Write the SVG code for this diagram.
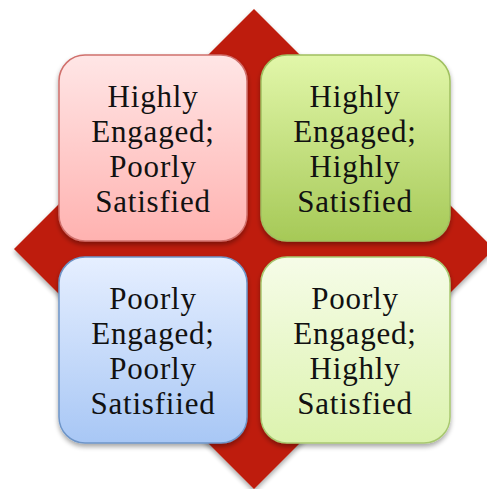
<svg xmlns="http://www.w3.org/2000/svg" width="487" height="489" viewBox="0 0 487 489">
  <defs>
    <filter id="shadow" x="-10%" y="-10%" width="120%" height="125%">
      <feGaussianBlur in="SourceAlpha" stdDeviation="2.5"/>
      <feOffset dx="0" dy="3" result="b"/>
      <feComponentTransfer><feFuncA type="linear" slope="0.35"/></feComponentTransfer>
      <feMerge><feMergeNode/><feMergeNode in="SourceGraphic"/></feMerge>
    </filter>
    <linearGradient id="gRed" x1="0" y1="0" x2="0" y2="1">
      <stop offset="0" stop-color="#FFE6E6"/>
      <stop offset="1" stop-color="#FFB2B0"/>
    </linearGradient>
    <linearGradient id="gGreen" x1="0" y1="0" x2="0" y2="1">
      <stop offset="0" stop-color="#E2F7AA"/>
      <stop offset="1" stop-color="#A6C957"/>
    </linearGradient>
    <linearGradient id="gBlue" x1="0" y1="0" x2="0" y2="1">
      <stop offset="0" stop-color="#E6EFFF"/>
      <stop offset="1" stop-color="#A8C7F5"/>
    </linearGradient>
    <linearGradient id="gLime" x1="0" y1="0" x2="0" y2="1">
      <stop offset="0" stop-color="#F6FCE8"/>
      <stop offset="1" stop-color="#DCF3AE"/>
    </linearGradient>
  </defs>
  <style>
    .box { stroke-width: 1.5; filter: url(#shadow); }
    .lbl { font-family: "Liberation Serif", "Times New Roman", serif; font-size: 31px; letter-spacing: 0.8px; fill: #111; text-anchor: middle; }
  </style>

  <!-- red diamond backdrop -->
  <polygon points="254,9 494,249 254,489 14,249" fill="#BE1A0B" filter="url(#shadow)"/>

  <g id="highly-engaged-poorly-satisfied">
    <rect class="box" x="59" y="55" width="188" height="186" rx="26" fill="url(#gRed)" stroke="#D0706C"/>
    <text class="lbl" x="153" y="107">Highly</text>
    <text class="lbl" x="153" y="142">Engaged;</text>
    <text class="lbl" x="153" y="177">Poorly</text>
    <text class="lbl" x="153" y="212">Satisfied</text>
  </g>

  <g id="highly-engaged-highly-satisfied">
    <rect class="box" x="261" y="55" width="189" height="186" rx="26" fill="url(#gGreen)" stroke="#A0C060"/>
    <text class="lbl" x="355" y="107">Highly</text>
    <text class="lbl" x="355" y="142">Engaged;</text>
    <text class="lbl" x="355" y="177">Highly</text>
    <text class="lbl" x="355" y="212">Satisfied</text>
  </g>

  <g id="poorly-engaged-poorly-satisfied">
    <rect class="box" x="59" y="257" width="188" height="186" rx="26" fill="url(#gBlue)" stroke="#6E95C8"/>
    <text class="lbl" x="153" y="309">Poorly</text>
    <text class="lbl" x="153" y="344">Engaged;</text>
    <text class="lbl" x="153" y="379">Poorly</text>
    <text class="lbl" x="153" y="414">Satisfiied</text>
  </g>

  <g id="poorly-engaged-highly-satisfied">
    <rect class="box" x="261" y="257" width="189" height="186" rx="26" fill="url(#gLime)" stroke="#A8C870"/>
    <text class="lbl" x="355" y="309">Poorly</text>
    <text class="lbl" x="355" y="344">Engaged;</text>
    <text class="lbl" x="355" y="379">Highly</text>
    <text class="lbl" x="355" y="414">Satisfied</text>
  </g>

  <g id="connectors"/>
</svg>
